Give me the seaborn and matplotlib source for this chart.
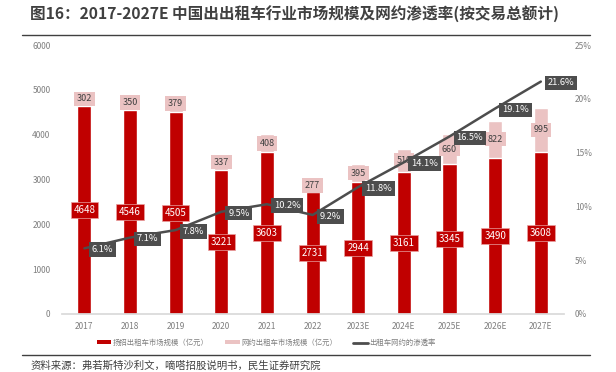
import numpy as np
import pandas as pd
import matplotlib
matplotlib.use("Agg")
import matplotlib.pyplot as plt
import seaborn as sns
from matplotlib.patches import Patch
from matplotlib.lines import Line2D

# datos del gráfico
years = ["2017", "2018", "2019", "2020", "2021", "2022", "2023E", "2024E", "2025E", "2026E", "2027E"]
street_hail = [4648, 4546, 4505, 3221, 3603, 2731, 2944, 3161, 3345, 3490, 3608]
ride_hailing = [302, 350, 379, 337, 408, 277, 395, 519, 660, 822, 995]
penetration = [6.1, 7.1, 7.8, 9.5, 10.2, 9.2, 11.8, 14.1, 16.5, 19.1, 21.6]

title = "图16：2017-2027E 中国出出租车行业市场规模及网约渗透率(按交易总额计)"
source = "资料来源：弗若斯特沙利文，嘀嗒招股说明书，民生证券研究院"
legend_labels = ["扬招出租车市场规模（亿元）", "网约出租车市场规模（亿元）", "出租车网约的渗透率"]

RED = "#C00000"
PINK = "#EBC3C3"
GREY = "#4D4D4D"
TICK = "#7F7F7F"

sns.set_theme(style="white")
plt.rcParams["font.family"] = ["Noto Sans CJK SC", "DejaVu Sans"]

df = pd.DataFrame({"year": years, "red": street_hail, "pink": ride_hailing, "pct": penetration})
df["total"] = df["red"] + df["pink"]

fig = plt.figure(figsize=(6.16, 3.72), dpi=100)
ax = fig.add_axes([0.1, 0.156, 0.815, 0.723])

sns.barplot(data=df, x="year", y="total", color=PINK, width=0.31, saturation=1, ax=ax)
sns.barplot(data=df, x="year", y="red", color=RED, width=0.31, saturation=1, ax=ax)

ax.set_xlim(-0.5, 10.5)
ax.set_ylim(0, 6000)
ax.set_yticks(np.arange(0, 6001, 1000))
ax.set_xlabel("")
ax.set_ylabel("")
ax.tick_params(axis="both", labelsize=6, colors=TICK, length=0)
ax.tick_params(axis="x", pad=6)
ax.tick_params(axis="y", pad=8)
for s in ["top", "left", "right"]:
    ax.spines[s].set_visible(False)
ax.spines["bottom"].set_color("#D9D9D9")

# etiquetas de las barras
for i, (r, p) in enumerate(zip(street_hail, ride_hailing)):
    ax.text(i, r / 2, str(r), ha="center", va="center", fontsize=7, color="white",
            bbox=dict(boxstyle="square,pad=0.3", fc=RED, ec="#E8A0A0", lw=0.5))
    ax.text(i, r + p / 2, str(p), ha="center", va="center", fontsize=6.5, color="#404040",
            bbox=dict(boxstyle="square,pad=0.3", fc=PINK, ec="none"))

# eje secundario con la tasa de penetración
ax2 = ax.twinx()
x_pos = np.arange(len(years))
sns.lineplot(x=x_pos, y=df["pct"], color=GREY, lw=1.8, ax=ax2)
ax2.set_ylim(0, 25)
ax2.set_yticks(np.arange(0, 26, 5))
ax2.set_yticklabels([f"{v}%" for v in range(0, 26, 5)])
ax2.set_ylabel("")
ax2.tick_params(axis="y", labelsize=6, colors=TICK, length=0, pad=8)
for s in ["top", "left", "right", "bottom"]:
    ax2.spines[s].set_visible(False)
ax2.grid(False)

for i, v in enumerate(penetration):
    ax2.annotate(f"{v}%", (i, v), xytext=(5, -1), textcoords="offset points",
                 ha="left", va="center", fontsize=6.7, color="white",
                 bbox=dict(boxstyle="square,pad=0.3", fc=GREY, ec="none"))

# leyenda
handles = [Patch(fc=RED, ec="none"), Patch(fc=PINK, ec="none"),
           Line2D([0], [0], color=GREY, lw=2)]
fig.legend(handles, legend_labels, loc="center", bbox_to_anchor=(0.432, 0.078), ncol=3,
           frameon=False, fontsize=5.3, labelcolor=TICK, handlelength=2.0, handleheight=0.5,
           columnspacing=2.2, handletextpad=0.2)

# título, líneas y fuente
fig.text(0.049, 0.962, title, fontsize=11.25, fontweight="bold", color="#404040", va="center")
fig.add_artist(Line2D([0.036, 0.958], [0.907, 0.907], color="#404040", lw=1))
fig.add_artist(Line2D([0.036, 0.958], [0.046, 0.046], color="#404040", lw=1))
fig.text(0.049, 0.016, source, fontsize=7.5, color="#404040", va="center")

fig.savefig("out.png", dpi=100)
